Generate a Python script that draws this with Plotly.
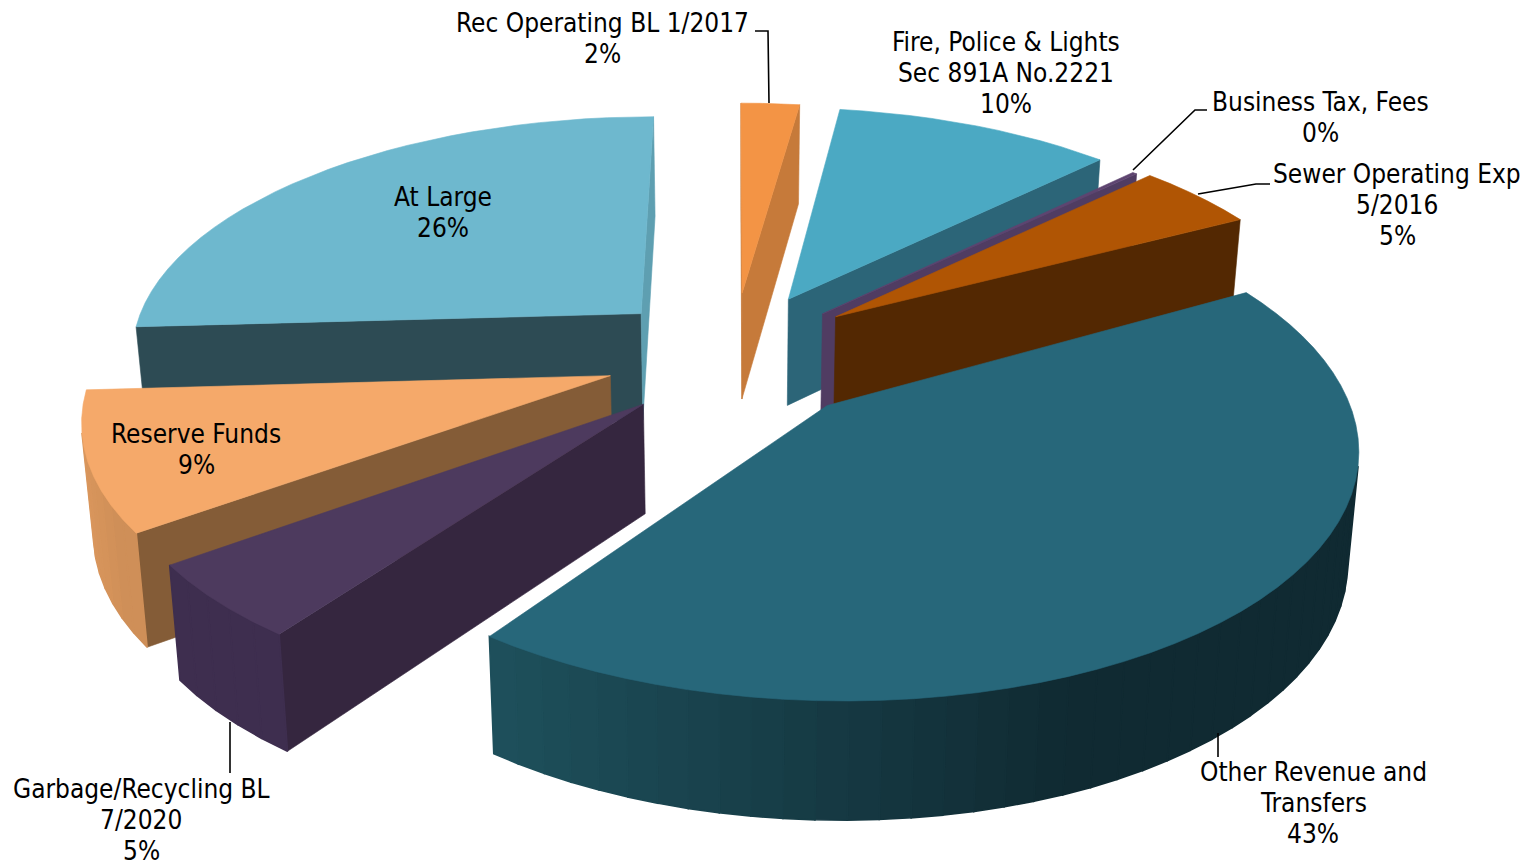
import numpy as np
import plotly.graph_objects as go

# ---- data (clockwise from the top of the pie)
categories = ["Rec Operating BL 1/2017", "Fire, Police &amp; Lights<br>Sec 891A No.2221", "Business Tax, Fees",
              "Sewer Operating Exp<br>5/2016", "Other Revenue and<br>Transfers", "Garbage/Recycling BL<br>7/2020",
              "Reserve Funds", "At Large"]
values = [2.2, 10.45, 0.17, 4.55, 42.7, 5.0, 9.1, 25.95]
label_pos = [(602, 38), (1006, 73), (1320, 117), (1397, 205), (1313, 803), (141, 820), (196, 449), (443, 212)]

# ---- style
top_col = ["#F39445", "#4BA9C3", "#5E4470", "#B05504", "#27677A", "#4D3A5E", "#F5A96A", "#6EB8CE"]
start_col = ["#C67A3A", "#2C6578", "#503C62", "#532802", "#1D4E5B", "#35263F", "#845C37", "#2D4B54"]
end_col = ["#C67A3A", "#2C6578", "#503C62", "#532802", "#1D4E5B", "#3E2E4F", "#845C37", "#5E9FB1"]
outer_a = ["#C67A3A", "#2C6578", "#503C62", "#532802", "#1E505C", "#3E2E4F", "#D9965C", "#2D4B54"]
outer_b = ["#C67A3A", "#2C6578", "#503C62", "#532802", "#102A32", "#3E2E4F", "#CF8F58", "#2D4B54"]
paint_order = [7, 0, 1, 2, 3, 6, 5, 4]
radius_k = [1, 1, 1, 1, 1, 1, 1.01, 1.015]
shift_x = [0, -4, -6, -6, 2, 10, 8, 5]
shift_y = [1, 1, 4, 0, 3, 5, 1, 3]
start_trim_deg = [0, 0, 0, 0, -1.5, 0, 0, 0]

CX, CY, A, B, P, D, EXPL, LOW = 733.0, 353.0, 507.0, 235.0, 0.149, 108.0, 0.27, 0.982
LINE_GAP = 31
FONT = "DejaVu Sans Condensed, Noto Sans"


def project(X, Y, low, sft=(0, 0)):
    w = 1 + P * Y
    sx = A * X / w * (LOW if low else 1.0)
    sy = -B * Y / w + (D / np.sqrt(w) if low else 0.0)
    return CX + sx + sft[0], CY + sy + sft[1]


def hexrgb(h):
    return np.array([int(h[i:i + 2], 16) for i in (1, 3, 5)], float)


def mix(a, b, t):
    c = hexrgb(a) * (1 - t) + hexrgb(b) * t
    return "rgb(%d,%d,%d)" % tuple(c.round())


def poly(fig, xs, ys, col, lw=0.6):
    fig.add_trace(go.Scatter(x=list(xs) + [xs[0]], y=list(ys) + [ys[0]], mode="lines", fill="toself",
                             fillcolor=col, line=dict(color=col, width=lw), hoverinfo="skip", showlegend=False))


def side(fig, p, q, col, sft, lw=0.6):
    """Quad below the top-face edge p->q; drawn only when it faces the viewer."""
    x0, y0 = project(p[0], p[1], False, sft)
    x1, y1 = project(q[0], q[1], False, sft)
    x2, y2 = project(q[0], q[1], True, sft)
    x3, y3 = project(p[0], p[1], True, sft)
    xs, ys = [x0, x1, x2, x3], [y0, y1, y2, y3]
    area = sum(xs[i] * ys[(i + 1) % 4] - xs[(i + 1) % 4] * ys[i] for i in range(4))
    if area < 0:
        poly(fig, xs, ys, col, lw)


fig = go.Figure()
fractions = np.array(values) / sum(values)
edges = np.concatenate([[0], np.cumsum(fractions)]) * 2 * np.pi

for i in paint_order:
    a0, a1 = edges[i], edges[i + 1]
    mid = (a0 + a1) / 2
    a0 = a0 + np.radians(start_trim_deg[i])
    ox, oy = EXPL * np.sin(mid), EXPL * np.cos(mid)
    n = max(3, int((a1 - a0) / np.radians(3)))
    th = np.linspace(a0, a1, n + 1)
    R = radius_k[i]
    sft = (shift_x[i], shift_y[i])
    rim = [(ox + R * np.sin(t), oy + R * np.cos(t)) for t in th]
    apex = (ox, oy)
    side(fig, apex, rim[0], start_col[i], sft)
    side(fig, rim[-1], apex, end_col[i], sft)
    xr = [project(r[0], r[1], True, sft)[0] for r in rim]
    lo, hi = min(xr), max(xr)
    for k in range(n):
        t = (0.5 * (xr[k] + xr[k + 1]) - lo) / (hi - lo)
        side(fig, rim[k], rim[k + 1], mix(outer_a[i], outer_b[i], min(1, t * 1.5)), sft, 1.6)
    tx, ty = project(apex[0], apex[1], False, sft)
    px, py = zip(*[project(r[0], r[1], False, sft) for r in rim])
    poly(fig, [tx] + list(px), [ty] + list(py), top_col[i])

# leader lines
leaders = [([755, 768, 769], [31, 31, 103]), ([1207, 1195, 1133], [110, 110, 170]),
           ([1270, 1256, 1198], [184, 184, 194]), ([230, 230], [722, 773]), ([1218, 1218], [733, 757])]
for lx, ly in leaders:
    fig.add_trace(go.Scatter(x=lx, y=ly, mode="lines", line=dict(color="black", width=1.6),
                             hoverinfo="skip", showlegend=False))

for name, v, (lx, ly) in zip(categories, values, label_pos):
    lines = name.split("<br>") + [f"{round(v)}%"]
    for j, line in enumerate(lines):
        fig.add_annotation(x=lx, y=ly + (j - (len(lines) - 1) / 2) * LINE_GAP, text=line, showarrow=False,
                           xanchor="center", yanchor="middle", align="center",
                           font=dict(family=FONT, size=26, color="black"))

fig.update_layout(width=1529, height=865, margin=dict(l=0, r=0, t=0, b=0), paper_bgcolor="white",
                  plot_bgcolor="white", showlegend=False,
                  xaxis=dict(range=[0, 1529], visible=False, fixedrange=True),
                  yaxis=dict(range=[865, 0], visible=False, fixedrange=True))
fig.write_html("out.html", post_script="document.body.style.margin='0';", config={"displayModeBar": False})
